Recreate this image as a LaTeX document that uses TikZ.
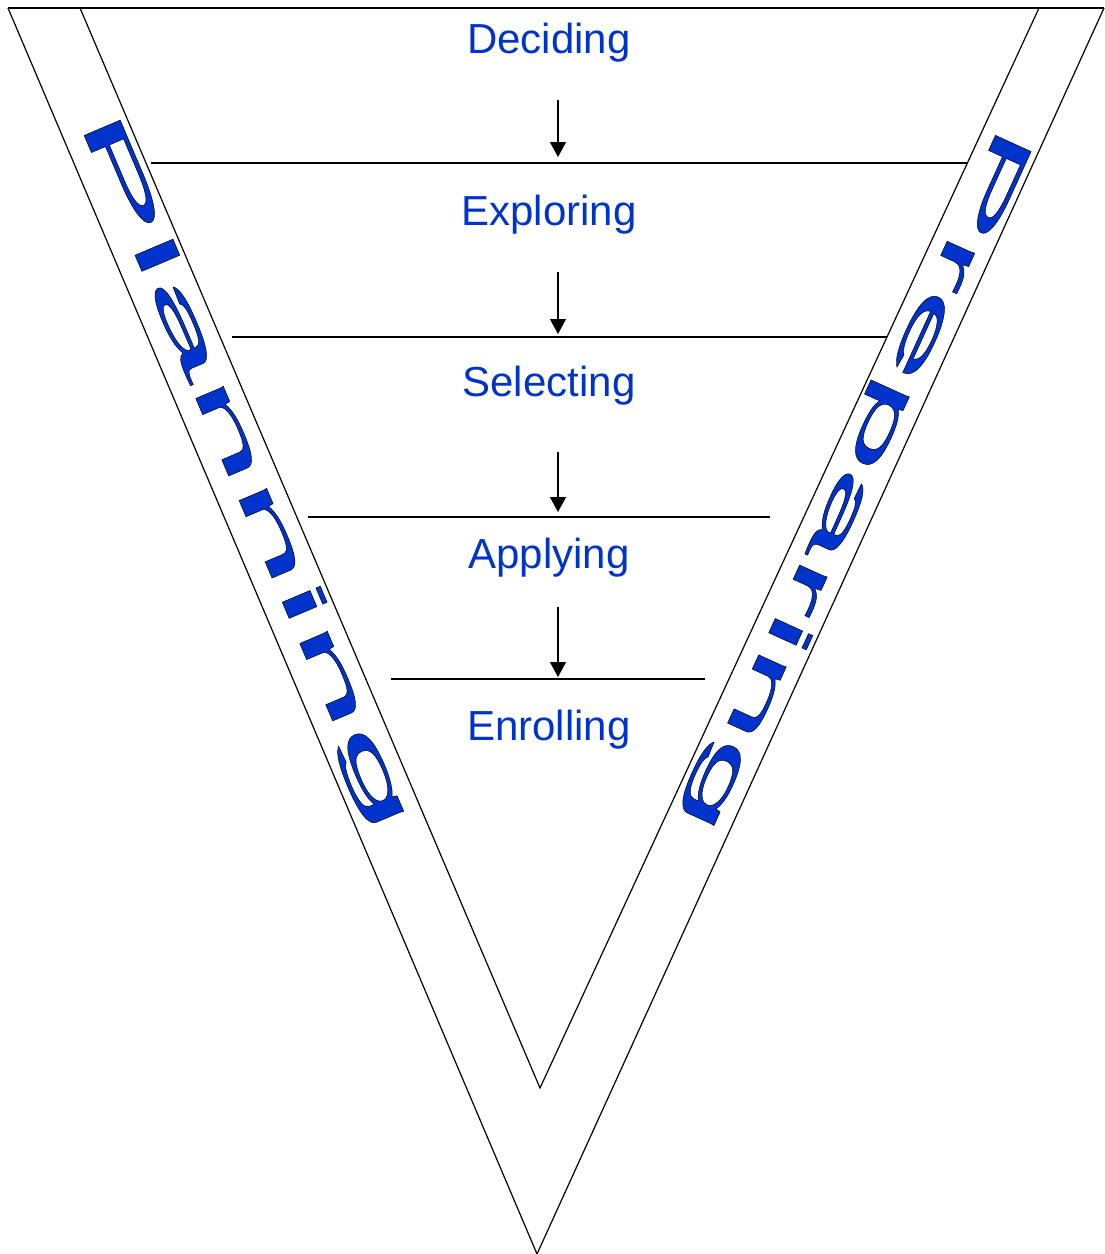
\documentclass[tikz,border=0pt]{standalone}
\usepackage{fontspec}
\setmainfont{Liberation Sans}
\newfontfamily\planfont[FakeStretch=3.5, FakeBold=0.8]{Liberation Sans}
\newfontfamily\prepfont[FakeStretch=3.12, FakeBold=0.8]{Liberation Sans}
\usetikzlibrary{arrows.meta}
\definecolor{stageblue}{RGB}{0,51,204}
% black edge round the blue letters
\newcommand\inkedge{\special{pdf:code 0 0 0 RG}}

\begin{document}
\begin{tikzpicture}[x=1pt, y=-1pt, line width=1.2pt,
  stage/.style={text=stageblue, font=\fontsize{42}{48}\selectfont, anchor=base, inner sep=0pt},
  flow/.style={line width=1.1pt, -{Triangle[length=15pt, width=16pt]}},
  band/.style={text=stageblue, inner sep=0pt}]
  \useasboundingbox (0,0) rectangle (1104,1254);
  % outer V and inner V
  \coordinate (OL) at (8,8);
  \coordinate (OR) at (1104,8);
  \coordinate (OB) at (537,1254);
  \coordinate (IL) at (80,8);
  \coordinate (IR) at (1039,8);
  \coordinate (IB) at (540,1088);
  \draw (OL) -- (OR);
  \draw (OL) -- (OB) -- (OR);
  \draw (IL) -- (IB) -- (IR);
  % dividers between the stages
  \coordinate (D1l) at (151,163); \coordinate (D1r) at (968,163);
  \coordinate (D2l) at (232,337); \coordinate (D2r) at (887,337);
  \coordinate (D3l) at (308,517); \coordinate (D3r) at (770,517);
  \coordinate (D4l) at (391,679); \coordinate (D4r) at (705,679);
  \draw (D1l) -- (D1r);
  \draw (D2l) -- (D2r);
  \draw (D3l) -- (D3r);
  \draw (D4l) -- (D4r);
  % stages
  \node[stage] (deciding) at (549,53) {Deciding};
  \node[stage] (exploring) at (549,225) {Exploring};
  \node[stage] (selecting) at (549,396) {Selecting};
  \node[stage] (applying) at (549,568) {Applying};
  \node[stage] (enrolling) at (549,740) {Enrolling};
  % arrows down to each divider
  \foreach \i/\ys/\ye in {1/100/157, 2/272/334, 3/452/512, 4/607/677} {
    \coordinate (s\i) at (558,\ys);
    \coordinate (e\i) at (558,\ye);
    \draw[flow] (s\i) -- (e\i);
  }
  % side bands
  \node[band, rotate=-67, font=\planfont\fontsize{57}{60}\selectfont] (planning) at (243,472) {\inkedge Planning};
  \node[band, rotate=-114.5, font=\prepfont\fontsize{57}{60}\selectfont] (preparing) at (855,479) {\inkedge Preparing};
\end{tikzpicture}
\end{document}
